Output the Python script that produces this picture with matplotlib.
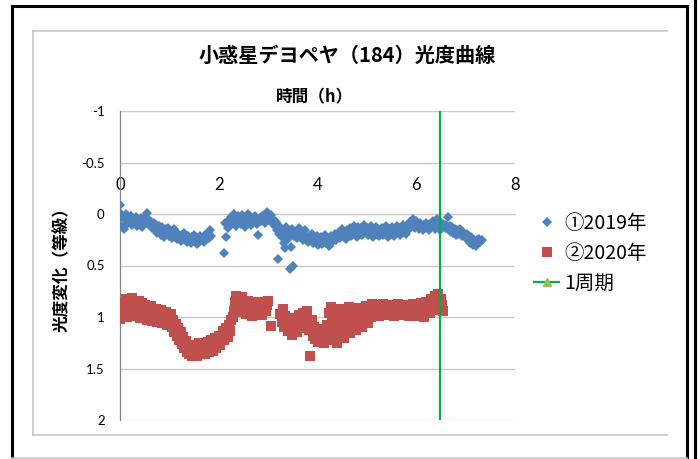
import matplotlib
matplotlib.use('Agg')
import matplotlib.pyplot as plt
from matplotlib.lines import Line2D

plt.rcParams['font.family'] = ['Noto Sans CJK JP', 'DejaVu Sans']

TITLE = '小惑星デヨペヤ（184）光度曲線'
X_LABEL = '時間（h）'
Y_LABEL = '光度変化（等級）'
SERIES_NAMES = ['①2019年', '②2020年', '1周期']

# 2019 observations: time [h], magnitude change
t_2019 = [
    0.00, 0.01, 0.03, 0.05, 0.08, 0.10, 0.13, 0.15, 0.18, 0.20, 0.23, 0.25, 0.28, 0.30, 0.33,
    0.35, 0.38, 0.40, 0.43, 0.45, 0.48, 0.50, 0.53, 0.55, 0.58, 0.60, 0.63, 0.65, 0.68, 0.70,
    0.73, 0.75, 0.78, 0.80, 0.83, 0.85, 0.88, 0.90, 0.93, 0.95, 0.98, 1.00, 1.03, 1.05, 1.08,
    1.10, 1.13, 1.15, 1.18, 1.20, 1.23, 1.25, 1.28, 1.30, 1.33, 1.35, 1.38, 1.40, 1.43, 1.45,
    1.48, 1.50, 1.53, 1.55, 1.58, 1.60, 1.63, 1.65, 1.68, 1.70, 1.73, 1.75, 1.78, 1.80, 1.83,
    1.85, 2.10, 2.12, 2.15, 2.18, 2.20, 2.23, 2.25, 2.28, 2.30, 2.33, 2.35, 2.38, 2.40, 2.43,
    2.45, 2.48, 2.50, 2.53, 2.55, 2.58, 2.60, 2.63, 2.65, 2.68, 2.70, 2.73, 2.75, 2.78, 2.80,
    2.83, 2.85, 2.88, 2.90, 2.93, 2.95, 2.98, 3.00, 3.03, 3.05, 3.08, 3.10, 3.13, 3.15, 3.18,
    3.19, 3.20, 3.23, 3.25, 3.28, 3.30, 3.33, 3.34, 3.36, 3.38, 3.40, 3.43, 3.44, 3.46, 3.48,
    3.50, 3.53, 3.55, 3.58, 3.60, 3.63, 3.65, 3.68, 3.70, 3.73, 3.75, 3.78, 3.80, 3.83, 3.85,
    3.88, 3.90, 3.93, 3.95, 3.98, 4.00, 4.03, 4.05, 4.08, 4.10, 4.13, 4.15, 4.18, 4.20, 4.23,
    4.25, 4.28, 4.30, 4.33, 4.35, 4.38, 4.40, 4.43, 4.45, 4.48, 4.50, 4.53, 4.55, 4.58, 4.60,
    4.63, 4.65, 4.68, 4.70, 4.73, 4.75, 4.78, 4.80, 4.83, 4.85, 4.88, 4.90, 4.93, 4.95, 4.98,
    5.00, 5.03, 5.05, 5.08, 5.10, 5.13, 5.15, 5.18, 5.20, 5.23, 5.25, 5.28, 5.30, 5.33, 5.35,
    5.38, 5.40, 5.43, 5.45, 5.48, 5.50, 5.53, 5.55, 5.58, 5.60, 5.63, 5.65, 5.68, 5.70, 5.73,
    5.75, 5.78, 5.80, 5.83, 5.85, 5.88, 5.90, 5.93, 5.95, 5.98, 6.00, 6.03, 6.05, 6.08, 6.10,
    6.13, 6.15, 6.18, 6.20, 6.23, 6.25, 6.28, 6.30, 6.33, 6.35, 6.38, 6.40, 6.43, 6.45, 6.48,
    6.50, 6.53, 6.55, 6.58, 6.60, 6.64, 6.65, 6.68, 6.70, 6.73, 6.75, 6.78, 6.80, 6.83, 6.85,
    6.88, 6.90, 6.93, 6.95, 6.98, 7.00, 7.03, 7.05, 7.08, 7.10, 7.13, 7.15, 7.18, 7.20, 7.23,
    7.25, 7.28, 7.30, 7.33,
]
mag_2019 = [
    -0.01, -0.09, 0.12, 0.03, 0.15, 0.06, 0.00, 0.10, 0.04, 0.08, 0.02, 0.11, 0.05, 0.09, 0.03,
    0.12, 0.06, 0.10, 0.04, 0.13, 0.07, 0.03, 0.09, -0.01, 0.06, 0.11, 0.08, 0.14, 0.09, 0.15,
    0.11, 0.18, 0.12, 0.16, 0.20, 0.13, 0.18, 0.22, 0.15, 0.19, 0.14, 0.21, 0.17, 0.23, 0.18,
    0.15, 0.21, 0.24, 0.19, 0.22, 0.26, 0.20, 0.24, 0.18, 0.23, 0.27, 0.21, 0.25, 0.28, 0.22,
    0.26, 0.20, 0.24, 0.29, 0.23, 0.27, 0.21, 0.25, 0.22, 0.27, 0.20, 0.24, 0.18, 0.23, 0.16,
    0.21, 0.38, 0.09, 0.22, 0.14, 0.06, 0.11, 0.03, 0.08, 0.00, 0.05, 0.12, 0.02, 0.07, 0.04,
    0.10, 0.01, 0.06, 0.13, 0.03, 0.08, 0.00, 0.05, 0.11, 0.04, 0.08, 0.02, 0.06, 0.10, 0.20,
    0.04, 0.07, 0.02, 0.05, 0.09, 0.01, -0.02, 0.03, 0.06, 0.01, 0.09, 0.05, 0.12, 0.08, 0.16,
    0.44, 0.11, 0.19, 0.14, 0.22, 0.17, 0.28, 0.33, 0.13, 0.20, 0.24, 0.18, 0.53, 0.32, 0.15,
    0.50, 0.21, 0.17, 0.23, 0.19, 0.14, 0.22, 0.18, 0.25, 0.20, 0.16, 0.23, 0.27, 0.21, 0.25,
    0.19, 0.28, 0.23, 0.26, 0.21, 0.30, 0.24, 0.27, 0.22, 0.29, 0.25, 0.20, 0.28, 0.23, 0.31,
    0.26, 0.21, 0.27, 0.24, 0.19, 0.25, 0.21, 0.17, 0.23, 0.19, 0.15, 0.22, 0.18, 0.24, 0.16,
    0.20, 0.14, 0.21, 0.17, 0.12, 0.19, 0.15, 0.22, 0.13, 0.18, 0.14, 0.20, 0.16, 0.11, 0.18,
    0.14, 0.20, 0.15, 0.12, 0.18, 0.22, 0.16, 0.13, 0.19, 0.15, 0.21, 0.17, 0.14, 0.20, 0.16,
    0.12, 0.18, 0.22, 0.15, 0.19, 0.13, 0.17, 0.21, 0.16, 0.12, 0.18, 0.14, 0.20, 0.15, 0.11,
    0.17, 0.13, 0.19, 0.10, 0.15, 0.08, 0.13, 0.05, 0.10, 0.14, 0.07, 0.11, 0.15, 0.09, 0.13,
    0.16, 0.11, 0.14, 0.09, 0.12, 0.16, 0.10, 0.13, 0.07, 0.11, 0.15, 0.09, 0.05, 0.12, 0.16,
    0.09, 0.13, 0.10, 0.14, 0.11, 0.03, 0.15, 0.12, 0.17, 0.13, 0.18, 0.15, 0.20, 0.16, 0.19,
    0.15, 0.18, 0.21, 0.17, 0.20, 0.23, 0.19, 0.25, 0.28, 0.22, 0.26, 0.30, 0.27, 0.31, 0.25,
    0.28, 0.24, 0.27, 0.25,
]

# 2020 observations: time [h], magnitude change
t_2020 = [
    0.00, 0.02, 0.04, 0.06, 0.08, 0.10, 0.13, 0.15, 0.18, 0.20, 0.23, 0.25, 0.28, 0.30, 0.33,
    0.35, 0.38, 0.40, 0.43, 0.45, 0.48, 0.50, 0.53, 0.55, 0.58, 0.60, 0.63, 0.65, 0.68, 0.70,
    0.73, 0.75, 0.78, 0.80, 0.83, 0.85, 0.88, 0.90, 0.93, 0.95, 0.98, 1.00, 1.03, 1.05, 1.08,
    1.10, 1.13, 1.15, 1.18, 1.20, 1.23, 1.25, 1.28, 1.30, 1.33, 1.35, 1.38, 1.40, 1.43, 1.45,
    1.48, 1.50, 1.53, 1.55, 1.58, 1.60, 1.63, 1.65, 1.68, 1.70, 1.73, 1.75, 1.78, 1.80, 1.83,
    1.85, 1.88, 1.90, 1.93, 1.95, 1.98, 2.00, 2.03, 2.05, 2.08, 2.10, 2.13, 2.15, 2.18, 2.20,
    2.23, 2.25, 2.28, 2.30, 2.33, 2.35, 2.38, 2.40, 2.43, 2.45, 2.48, 2.50, 2.53, 2.55, 2.58,
    2.60, 2.63, 2.65, 2.68, 2.70, 2.73, 2.75, 2.78, 2.80, 2.83, 2.85, 2.88, 2.90, 2.93, 2.95,
    2.98, 3.00, 3.05, 3.25, 3.28, 3.30, 3.33, 3.35, 3.38, 3.40, 3.43, 3.45, 3.48, 3.50, 3.53,
    3.55, 3.58, 3.60, 3.63, 3.65, 3.68, 3.70, 3.73, 3.75, 3.78, 3.80, 3.83, 3.85, 3.88, 3.90,
    3.93, 3.95, 3.98, 4.00, 4.03, 4.05, 4.08, 4.10, 4.13, 4.15, 4.18, 4.20, 4.23, 4.25, 4.28,
    4.30, 4.33, 4.35, 4.38, 4.40, 4.43, 4.45, 4.48, 4.50, 4.53, 4.55, 4.58, 4.60, 4.63, 4.65,
    4.68, 4.70, 4.73, 4.75, 4.78, 4.80, 4.83, 4.85, 4.88, 4.90, 4.93, 4.95, 4.98, 5.00, 5.03,
    5.05, 5.08, 5.10, 5.13, 5.15, 5.18, 5.20, 5.23, 5.25, 5.28, 5.30, 5.33, 5.35, 5.38, 5.40,
    5.43, 5.45, 5.48, 5.50, 5.53, 5.55, 5.58, 5.60, 5.63, 5.65, 5.68, 5.70, 5.73, 5.75, 5.78,
    5.80, 5.83, 5.85, 5.88, 5.90, 5.93, 5.95, 5.98, 6.00, 6.03, 6.05, 6.08, 6.10, 6.13, 6.15,
    6.18, 6.20, 6.23, 6.25, 6.28, 6.30, 6.33, 6.35, 6.38, 6.40, 6.43, 6.45, 6.48, 6.50, 6.53,
    6.55,
]
mag_2020 = [
    1.02, 0.92, 0.85, 0.98, 0.88, 0.95, 0.83, 1.00, 0.90, 0.86, 0.97, 0.82, 0.92, 0.99, 0.87,
    0.94, 0.84, 1.01, 0.90, 0.86, 0.96, 0.88, 0.93, 1.03, 0.91, 0.97, 0.89, 1.04, 0.94, 0.99,
    0.92, 1.05, 0.96, 1.00, 0.93, 1.06, 0.97, 1.02, 0.95, 1.08, 1.00, 1.04, 0.97, 1.10, 1.03,
    1.15, 1.07, 1.18, 1.11, 1.22, 1.15, 1.26, 1.19, 1.30, 1.23, 1.34, 1.27, 1.36, 1.29, 1.38,
    1.31, 1.35, 1.27, 1.38, 1.32, 1.25, 1.36, 1.29, 1.33, 1.26, 1.36, 1.30, 1.24, 1.34, 1.28,
    1.22, 1.33, 1.26, 1.20, 1.30, 1.23, 1.18, 1.27, 1.20, 1.14, 1.22, 1.16, 1.11, 1.19, 1.08,
    1.14, 1.03, 1.00, 0.94, 0.85, 0.80, 0.90, 0.83, 0.95, 0.87, 0.81, 0.92, 0.85, 0.97, 0.89,
    0.84, 0.94, 0.88, 0.99, 0.91, 0.86, 0.96, 0.89, 0.85, 0.95, 0.88, 0.98, 0.90, 0.86, 0.94,
    0.88, 0.84, 1.09, 0.97, 1.05, 0.92, 1.10, 0.99, 1.06, 1.14, 1.02, 1.09, 1.17, 1.05, 1.12,
    1.01, 1.15, 1.08, 0.98, 1.11, 1.04, 0.96, 1.09, 1.02, 0.94, 1.07, 1.13, 1.38, 1.03, 1.18,
    1.10, 1.21, 1.14, 1.24, 1.17, 1.22, 1.12, 1.19, 1.25, 1.14, 1.20, 1.08, 0.96, 1.16, 0.90,
    1.05, 1.22, 0.95, 1.12, 1.25, 1.00, 1.18, 0.92, 1.08, 1.20, 0.98, 1.14, 1.04, 0.90, 1.16,
    1.00, 1.10, 0.93, 1.06, 1.13, 0.97, 1.08, 0.91, 1.02, 1.10, 0.95, 1.04, 0.89, 0.99, 1.06,
    0.93, 1.00, 0.87, 0.96, 0.91, 0.98, 0.88, 0.94, 0.99, 0.90, 0.96, 0.87, 0.93, 0.98, 0.89,
    0.95, 0.91, 0.97, 0.88, 0.94, 0.99, 0.90, 0.95, 0.87, 0.93, 0.98, 0.89, 0.94, 0.91, 0.97,
    0.88, 0.95, 0.99, 0.90, 0.96, 0.87, 0.93, 0.97, 0.89, 0.94, 0.99, 0.91, 0.86, 0.95, 1.00,
    0.90, 0.85, 0.93, 0.88, 0.96, 0.83, 0.91, 0.87, 0.80, 0.93, 0.85, 0.78, 0.90, 0.83, 0.88,
    0.94,
]

PERIOD_H = 6.48          # one rotation period [h]
X_TICKS = [0, 2, 4, 6, 8]
Y_TICKS = [-1, -0.5, 0, 0.5, 1, 1.5, 2]
Y_TICK_LABELS = ['-1', '-0.5', '0', '0.5', '1', '1.5', '2']

BLUE = '#4F81BD'
RED = '#C0504D'
GREEN = '#00B050'
OLIVE = '#9BBB59'
GRID = '#C8C8C8'

W, H = 700, 459
fig = plt.figure(figsize=(W / 100, H / 100), dpi=100)


def fx(px):
    return px / W


def fy(py):
    return 1 - py / H


# outer frame (black) and inner chart-area frame (light gray)
frame_lines = [
    ([12, 12], [6, 459], 'black', 2.2),
    ([12, 687], [6, 6], 'black', 2.2),
    ([687, 687], [6, 459], 'black', 2.2),
    ([695, 695], [0, 459], 'black', 2.2),
    ([12, 687], [458, 458], '#C8C8C8', 1.2),
    ([33, 667], [31, 31], '#C8C8C8', 1.2),
    ([33, 33], [31, 435], '#C8C8C8', 1.2),
    ([33, 667], [435, 435], '#C8C8C8', 1.2),
]
for xs, ys, col, lw in frame_lines:
    fig.add_artist(Line2D([fx(v) for v in xs], [fy(v) for v in ys],
                          color=col, linewidth=lw))

ax = fig.add_axes([fx(120), fy(420), fx(515) - fx(120), fy(111) - fy(420)])

ax.plot(t_2019, mag_2019, linestyle='none', marker='D', markersize=4.6,
        color=BLUE, markeredgewidth=0, zorder=3)
ax.plot(t_2020, mag_2020, linestyle='none', marker='s', markersize=6.6,
        color=RED, markeredgewidth=0, zorder=3)
ax.plot([PERIOD_H, PERIOD_H], [Y_TICKS[0], Y_TICKS[-1]], color=GREEN,
        linewidth=1.6, zorder=4)

ax.set_xlim(X_TICKS[0], X_TICKS[-1])
ax.set_ylim(Y_TICKS[-1], Y_TICKS[0])

for yv in Y_TICKS:
    ax.axhline(yv, color=GRID, linewidth=1.0, zorder=1)

for side in ['bottom', 'right']:
    ax.spines[side].set_visible(False)
ax.spines['top'].set_position(('data', 0))
ax.spines['top'].set_color(GRID)
ax.spines['left'].set_color('#868686')
ax.spines['left'].set_linewidth(0.9)

ax.xaxis.tick_top()
ax.set_xticks(X_TICKS)
ax.set_xticklabels([str(v) for v in X_TICKS], fontfamily='Lato', fontsize=12)
ax.tick_params(axis='x', length=0, pad=15)
ax.set_yticks(Y_TICKS)
ax.set_yticklabels(Y_TICK_LABELS, fontfamily='Lato', fontsize=9.5)
ax.tick_params(axis='y', length=0, pad=11)

fig.text(fx(347), fy(55), TITLE, fontsize=14.5, fontweight='bold',
         ha='center', va='center')
fig.text(fx(315), fy(97), X_LABEL, fontsize=12, fontweight='bold',
         ha='center', va='center')
fig.text(fx(62), fy(265), Y_LABEL, fontsize=12, fontweight='bold',
         ha='center', va='center', rotation=90)

handles = [
    Line2D([], [], linestyle='none', marker='D', markersize=4.6, color=BLUE,
           markeredgewidth=0),
    Line2D([], [], linestyle='none', marker='s', markersize=6.6, color=RED,
           markeredgewidth=0),
    Line2D([], [], color=GREEN, linewidth=1.6, marker='^', markersize=6,
           markerfacecolor=OLIVE, markeredgecolor=OLIVE),
]
fig.legend(handles, SERIES_NAMES, loc='upper left',
           bbox_to_anchor=(fx(534), fy(213)), frameon=False, fontsize=14,
           handlelength=1.3, handletextpad=0.25, labelspacing=0.45,
           borderpad=0, borderaxespad=0)

fig.savefig('out.png', dpi=100)
